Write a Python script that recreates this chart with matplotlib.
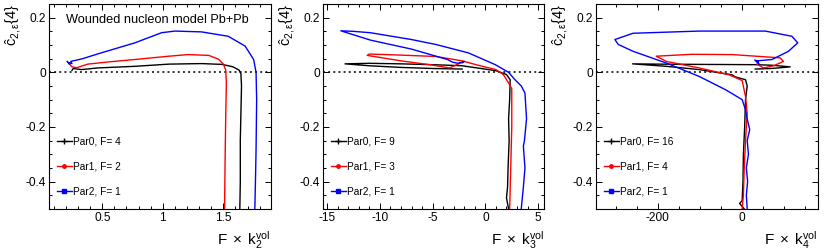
import matplotlib
matplotlib.use("Agg")
import matplotlib.pyplot as plt
from matplotlib.ticker import MultipleLocator
from matplotlib.lines import Line2D

plt.rcParams['font.family'] = ['Liberation Sans', 'DejaVu Sans']
plt.rcParams['mathtext.fontset'] = 'custom'
plt.rcParams['mathtext.rm'] = 'Liberation Sans'
plt.rcParams['mathtext.it'] = 'Liberation Sans'
plt.rcParams['mathtext.bf'] = 'Liberation Sans'

# ---- data ----
# panel 1 : F x k2
p1_par0_x = [0.25, 0.26, 0.33, 0.46, 0.77, 1.05, 1.32, 1.49, 1.58, 1.63, 1.645, 1.65, 1.645, 1.64, 1.64, 1.636]
p1_par0_y = [0.007, 0.014, 0.010, 0.016, 0.022, 0.030, 0.032, 0.029, 0.020, 0.008, -0.005, -0.05, -0.15, -0.25, -0.40, -0.50]
p1_par1_x = [0.23, 0.25, 0.29, 0.38, 0.55, 0.77, 1.05, 1.21, 1.38, 1.46, 1.50, 1.52, 1.525, 1.52, 1.515, 1.51]
p1_par1_y = [0.030, 0.020, 0.017, 0.030, 0.038, 0.047, 0.059, 0.065, 0.062, 0.048, 0.030, 0.008, -0.04, -0.15, -0.30, -0.50]
p1_par2_x = [0.21, 0.23, 0.22, 0.25, 0.24, 0.33, 0.49, 0.77, 0.99, 1.10, 1.32, 1.54, 1.68, 1.75, 1.77, 1.775, 1.77, 1.765, 1.76]
p1_par2_y = [0.040, 0.030, 0.036, 0.032, 0.040, 0.049, 0.071, 0.108, 0.145, 0.151, 0.148, 0.132, 0.096, 0.047, 0.0, -0.1, -0.285, -0.4, -0.5]

# panel 2 : F x k3
p2_par0_x = [-2.2, -5, -8, -11, -13.3, -11, -8, -5, -2.2, -0.6, 1.0, 2.0, 2.35, 2.3, 2.2, 2.25, 2.15, 2.1, 2.0, 2.2]
p2_par0_y = [0.012, 0.014, 0.018, 0.024, 0.031, 0.033, 0.031, 0.028, 0.024, 0.015, 0.006, -0.008, -0.027, -0.1, -0.17, -0.25, -0.35, -0.42, -0.46, -0.5]
p2_par1_x = [-2.3, -3.4, -5.3, -8, -11.2, -11, -8, -4.7, -2.2, -0.6, 1.0, 1.7, 2.2, 2.5, 2.5, 2.4, 2.3]
p2_par1_y = [0.035, 0.016, 0.028, 0.042, 0.062, 0.067, 0.063, 0.058, 0.042, 0.025, 0.010, -0.008, -0.039, -0.06, -0.2, -0.35, -0.5]
p2_par2_x = [-2.2, -2.0, -2.6, -3.1, -3.6, -7, -10.9, -13.7, -12.5, -10.9, -7, -4.7, -1.6, 0.94, 2.2, 2.8, 3.4, 3.75, 3.9, 3.7, 3.6, 3.75, 3.6, 3.4]
p2_par2_y = [0.035, 0.040, 0.033, 0.037, 0.047, 0.085, 0.118, 0.152, 0.150, 0.145, 0.120, 0.102, 0.071, 0.028, 0.0, -0.027, -0.05, -0.076, -0.17, -0.25, -0.27, -0.35, -0.42, -0.5]

# panel 3 : F x k4
p3_par0_x = [31, 70, 114, 70, 31, -100, -200, -260, -180, -102, -24, -16, 8, 12, 8, 6, 3, 2, 0, -6, 5]
p3_par0_y = [0.012, 0.014, 0.020, 0.026, 0.028, 0.029, 0.030, 0.031, 0.022, 0.010, -0.009, -0.017, -0.027, -0.05, -0.1, -0.2, -0.3, -0.4, -0.47, -0.48, -0.5]
p3_par1_x = [35, 51, 75, 98, 90, -24, -120, -204, -180, -102, -31, 0, 8, 12, 8, 5, 3, 0]
p3_par1_y = [0.030, 0.016, 0.024, 0.040, 0.053, 0.065, 0.066, 0.059, 0.040, 0.016, -0.009, -0.03, -0.088, -0.15, -0.25, -0.35, -0.45, -0.5]
p3_par2_x = [38, 30, 40, 36, 71, 110, 132, 118, 55, -102, -259, -302, -294, -259, -180, -102, -39, 0, 8, 12, 18, 12, 15, 10, 13, 10, 12]
p3_par2_y = [0.040, 0.045, 0.030, 0.042, 0.047, 0.077, 0.108, 0.132, 0.151, 0.151, 0.143, 0.120, 0.102, 0.077, 0.034, -0.015, -0.064, -0.1, -0.137, -0.17, -0.21, -0.25, -0.3, -0.35, -0.4, -0.45, -0.5]

legend_labels = [["Par0, F= 4", "Par1, F= 2", "Par2, F= 1"],
                 ["Par0, F= 9", "Par1, F= 3", "Par2, F= 1"],
                 ["Par0, F= 16", "Par1, F= 4", "Par2, F= 1"]]
xlabels = [r'$\mathrm{F}\;\times\;\mathrm{k}_{2}^{\mathrm{vol}}$',
           r'$\mathrm{F}\;\times\;\mathrm{k}_{3}^{\mathrm{vol}}$',
           r'$\mathrm{F}\;\times\;\mathrm{k}_{4}^{\mathrm{vol}}$']
ylabel = r'$\hat{\mathrm{c}}_{2,\epsilon}\{4\}$'

panels = [
    (p1_par0_x, p1_par0_y, p1_par1_x, p1_par1_y, p1_par2_x, p1_par2_y),
    (p2_par0_x, p2_par0_y, p2_par1_x, p2_par1_y, p2_par2_x, p2_par2_y),
    (p3_par0_x, p3_par0_y, p3_par1_x, p3_par1_y, p3_par2_x, p3_par2_y),
]
xlims = [(0.06, 1.89), (-15.4, 5.6), (-347, 179)]
xmajor = [0.5, 5, 200]
xminor = [0.1, 1, 50]
lefts = [0.059, 0.389, 0.718]

colors = ['black', 'red', 'blue']
markers = ['+', 'o', 's']

fig = plt.figure(figsize=(8.3, 2.52), dpi=100)

for i in range(3):
    ax = fig.add_axes([lefts[i], 0.171, 0.267, 0.813])
    d = panels[i]
    ax.axhline(0, color='#333333', ls=':', lw=1.4, zorder=1)
    for j in range(3):
        ax.plot(d[2 * j], d[2 * j + 1], color=colors[j], lw=1.0, zorder=2)
    ax.set_xlim(xlims[i])
    ax.set_ylim(-0.5, 0.25)
    ax.xaxis.set_major_locator(MultipleLocator(xmajor[i]))
    ax.xaxis.set_minor_locator(MultipleLocator(xminor[i]))
    ax.yaxis.set_major_locator(MultipleLocator(0.2))
    ax.yaxis.set_minor_locator(MultipleLocator(0.05))
    ax.tick_params(which='both', direction='in', top=True, right=True, labelsize=8.6, width=0.7)
    ax.tick_params(which='major', length=4.5, pad=2)
    ax.tick_params(which='minor', length=2.3)
    for s in ax.spines.values():
        s.set_linewidth(0.8)
    ax.set_yticks([-0.4, -0.2, 0, 0.2])
    ax.set_yticklabels(['-0.4', '-0.2', '0', '0.2'])
    if i == 0:
        ax.set_xticks([0.5, 1, 1.5])
        ax.set_xticklabels(['0.5', '1', '1.5'])
    elif i == 1:
        ax.set_xticks([-15, -10, -5, 0, 5])
        ax.set_xticklabels(['-15', '-10', '-5', '0', '5'])
    else:
        ax.set_xticks([-200, 0])
        ax.set_xticklabels(['-200', '0'])

    ax.text(-0.16, 1.0, ylabel, transform=ax.transAxes, rotation=90,
            ha='center', va='top', fontsize=10.5)
    ax.text(1.0, -0.15, xlabels[i], transform=ax.transAxes,
            ha='right', va='center', fontsize=11)

    handles = [Line2D([], [], color=colors[j], lw=1.0, marker=markers[j],
                      markersize=2.5 if j else 4, markeredgewidth=1.0)
               for j in range(3)]
    ax.legend(handles, legend_labels[i], loc='upper left', bbox_to_anchor=(0.035, 0.355),
              frameon=False, fontsize=7.3, handlelength=1.5, handletextpad=0.15,
              labelspacing=1.5, borderpad=0, borderaxespad=0)

    if i == 0:
        ax.text(0.075, 0.92, "Wounded nucleon model Pb+Pb", transform=ax.transAxes,
                ha='left', va='center', fontsize=9.2)

plt.savefig('out.png', dpi=100)
